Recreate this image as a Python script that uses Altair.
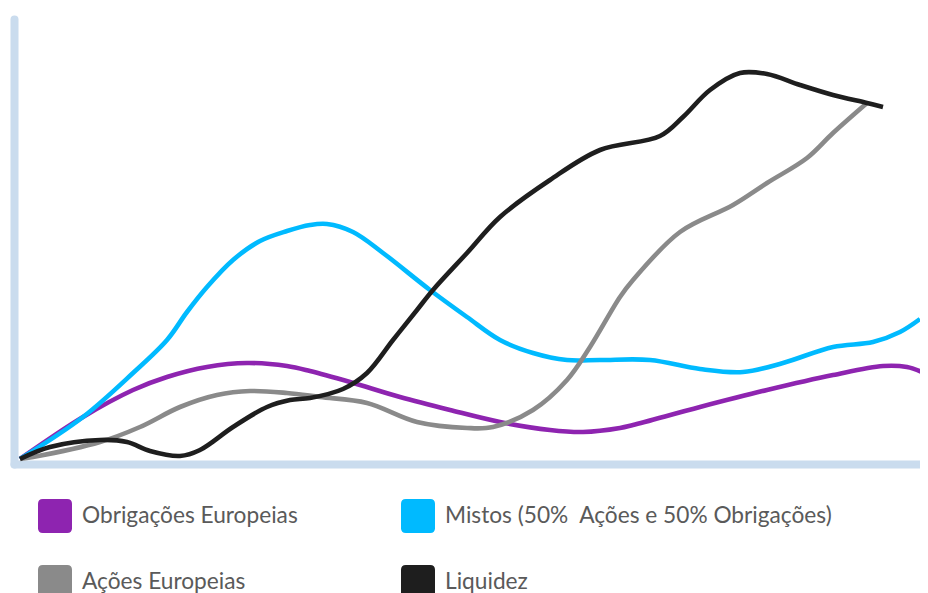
import altair as alt
import pandas as pd

series_names = [
    "Obrigações Europeias",
    "Ações Europeias",
    "Mistos (50%\u00a0 Ações e 50% Obrigações)",
    "Liquidez",
]
series_colors = ["#8e24b0", "#8a8a8a", "#00baff", "#1e1e1e"]

# x: time units, y: value units
obrig_x = [0, 63, 113, 147, 187, 227, 267, 290, 330, 380, 430, 480, 530, 563, 600, 613, 680, 747, 813, 863, 887, 902]
obrig_y = [0, 42, 69, 82, 92, 96, 93, 88, 77, 62, 49, 37, 29, 27, 31, 34, 52, 69, 84, 93, 92, 87]

mistos_x = [0, 63, 113, 147, 167, 187, 213, 240, 267, 290, 307, 333, 363, 410, 447, 480, 513, 547, 580, 630, 680, 723, 763, 813, 853, 880, 900]
mistos_y = [0, 42, 86, 119, 147, 172, 199, 218, 228, 234, 235, 227, 206, 169, 142, 119, 106, 99, 99, 99, 90, 87, 96, 112, 117, 127, 140]

acoes_x = [0, 13, 80, 120, 160, 197, 230, 267, 300, 347, 397, 447, 473, 513, 547, 570, 600, 613, 660, 713, 747, 787, 813, 847]
acoes_y = [0, 2, 17, 32, 52, 64, 68, 66, 62, 56, 37, 31, 32, 49, 79, 112, 162, 179, 227, 254, 276, 301, 326, 356]

liq_x = [0, 30, 80, 107, 130, 160, 180, 213, 247, 270, 290, 323, 347, 373, 397, 413, 447, 480, 530, 580, 640, 663, 690, 720, 747, 780, 813, 847, 863]
liq_y = [0, 12, 19, 17, 8, 3, 9, 32, 52, 59, 61, 70, 86, 119, 149, 169, 206, 242, 279, 309, 323, 342, 369, 386, 385, 374, 364, 356, 352]

rows = []
for name, xs, ys in [
    (series_names[0], obrig_x, obrig_y),
    (series_names[2], mistos_x, mistos_y),
    (series_names[1], acoes_x, acoes_y),
    (series_names[3], liq_x, liq_y),
]:
    for i, (xv, yv) in enumerate(zip(xs, ys)):
        rows.append({"serie": name, "t": xv, "v": yv, "ord": i})
df = pd.DataFrame(rows)

rounded_square = "M-0.72,-1 H0.72 Q1,-1 1,-0.72 V0.72 Q1,1 0.72,1 H-0.72 Q-1,1 -1,0.72 V-0.72 Q-1,-1 -0.72,-1 Z"

x_enc = alt.X("t:Q", scale=alt.Scale(domain=[-6, 900], nice=False, zero=False),
              axis=alt.Axis(labels=False, ticks=False, grid=False, title=None,
                            domainColor="#cadcee", domainWidth=8, domainCap="round"))
y_enc = alt.Y("v:Q", scale=alt.Scale(domain=[-5, 440], nice=False, zero=False),
              axis=alt.Axis(labels=False, ticks=False, grid=False, title=None,
                            domainColor="#cadcee", domainWidth=8, domainCap="round"))

base = alt.Chart(df)

lines = base.mark_line(
    interpolate="catmull-rom", strokeWidth=4.6, strokeCap="butt"
).encode(
    x=x_enc, y=y_enc,
    stroke=alt.Stroke("serie:N",
                      scale=alt.Scale(domain=series_names, range=series_colors),
                      legend=None),
    order="ord:Q",
)

legend_pts = base.transform_calculate(lab="datum.serie").mark_point(
    filled=True, size=0, strokeWidth=0
).encode(
    x=x_enc, y=y_enc,
    fill=alt.Fill("lab:N",
                  scale=alt.Scale(domain=series_names, range=series_colors),
                  legend=alt.Legend(
                      title=None, orient="none", legendX=24, legendY=480,
                      columns=2, columnPadding=103, rowPadding=32,
                      padding=0, symbolType=rounded_square, symbolSize=1156,
                      symbolStrokeWidth=0, symbolOpacity=1, labelFont="Lato",
                      labelFontSize=22.7, labelColor="#5a5a5a", labelOffset=10,
                      labelLimit=0, symbolOffset=0,
                  )),
)

chart = alt.layer(lines, legend_pts).resolve_scale(
    fill="independent", stroke="independent"
).resolve_legend(fill="independent", stroke="independent").properties(
    width=906, height=445,
    padding={"left": 6, "top": 11, "right": 0, "bottom": 129},
    autosize=alt.AutoSizeParams(type="none"),
).configure_view(stroke=None)

chart.save("out.html", embed_options={"renderer": "svg", "actions": False})
